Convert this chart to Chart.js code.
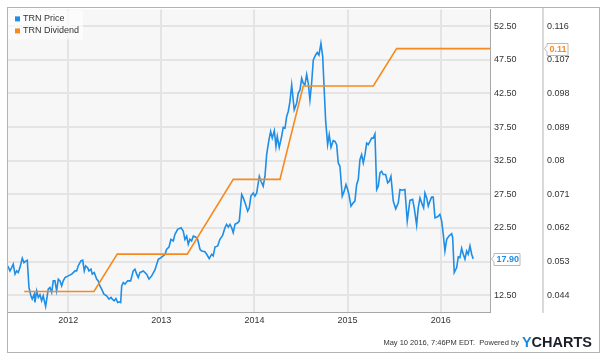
<!DOCTYPE html>
<html>
<head>
<meta charset="utf-8">
<script src="https://cdn.jsdelivr.net/npm/chart.js@4.4.1/dist/chart.umd.min.js"></script>
<style>
html,body{margin:0;padding:0;background:#fff;}
#wrap{width:600px;height:354px;position:relative;}
</style>
</head>
<body>
<div id="wrap"><canvas id="c" width="600" height="354"></canvas></div>
<script>
// ---- data ----
const priceYears = [
2011.349,2011.374,2011.392,2011.409,2011.428,2011.446,2011.463,2011.481,2011.506,2011.524,
2011.546,2011.560,2011.578,2011.599,2011.613,2011.635,2011.642,2011.661,2011.678,2011.696,
2011.714,2011.731,2011.757,2011.785,2011.803,2011.822,2011.839,2011.857,2011.875,2011.893,
2011.911,2011.929,2011.946,2011.965,2012.000,2012.037,2012.054,2012.072,2012.090,2012.107,
2012.136,2012.155,2012.172,2012.187,2012.208,2012.222,2012.244,2012.258,2012.279,2012.305,
2012.322,2012.340,2012.359,2012.383,2012.412,2012.437,2012.459,2012.473,2012.494,2012.512,
2012.531,2012.548,2012.563,2012.574,2012.591,2012.609,2012.638,2012.670,2012.698,2012.716,
2012.735,2012.752,2012.770,2012.806,2012.842,2012.867,2012.896,2012.931,2012.967,2012.996,
2013.020,2013.039,2013.057,2013.082,2013.103,2013.128,2013.146,2013.175,2013.211,2013.235,
2013.253,2013.272,2013.289,2013.307,2013.325,2013.343,2013.368,2013.390,2013.415,2013.433,
2013.468,2013.487,2013.514,2013.540,2013.557,2013.576,2013.605,2013.629,2013.658,2013.683,
2013.701,2013.719,2013.737,2013.755,2013.772,2013.791,2013.820,2013.837,2013.863,2013.880,
2013.905,2013.927,2013.944,2013.962,2013.987,2014.005,2014.024,2014.052,2014.070,2014.094,
2014.113,2014.131,2014.156,2014.174,2014.191,2014.213,2014.231,2014.245,2014.266,2014.292,
2014.309,2014.328,2014.346,2014.363,2014.381,2014.400,2014.427,2014.453,2014.470,2014.489,
2014.507,2014.524,2014.542,2014.561,2014.578,2014.596,2014.614,2014.632,2014.657,2014.675,
2014.693,2014.714,2014.733,2014.750,2014.765,2014.786,2014.803,2014.822,2014.846,2014.865,
2014.883,2014.900,2014.918,2014.943,2014.964,2014.983,2015.001,2015.018,2015.037,2015.061,
2015.079,2015.098,2015.115,2015.133,2015.151,2015.169,2015.187,2015.205,2015.222,2015.241,
2015.259,2015.276,2015.294,2015.313,2015.330,2015.348,2015.366,2015.383,2015.409,2015.431,
2015.448,2015.466,2015.491,2015.517,2015.545,2015.563,2015.588,2015.616,2015.641,2015.670,
2015.699,2015.716,2015.742,2015.759,2015.778,2015.802,2015.817,2015.831,2015.850,2015.867,
2015.885,2015.903,2015.920,2015.939,2015.968,2015.992,2016.011,2016.028,2016.046,2016.065,
2016.089,2016.118,2016.129,2016.146,2016.172,2016.189,2016.207,2016.225,2016.243,2016.261,
2016.279,2016.296,2016.315,2016.333,2016.350
];
const priceValues = [
16.86,16.11,16.60,17.11,15.63,16.11,15.86,16.60,18.00,17.34,
17.60,17.70,13.64,12.41,11.92,12.66,11.42,13.15,12.16,12.56,
11.67,12.41,10.83,13.40,13.64,12.90,14.63,14.63,13.15,14.89,
14.63,13.89,14.63,15.12,15.37,15.63,15.86,16.11,16.11,16.86,
17.60,17.70,16.11,16.86,16.60,16.11,16.37,15.63,15.86,14.89,
14.63,13.89,13.40,12.66,12.41,11.92,12.16,11.92,11.67,12.01,
11.42,11.52,11.42,13.89,14.38,14.14,14.63,14.63,16.11,16.37,
15.63,15.12,15.86,16.11,15.63,14.89,15.37,16.26,17.85,18.09,
18.34,18.59,19.33,19.67,20.81,20.56,21.55,22.29,22.53,22.04,
20.81,21.30,20.07,20.81,20.56,21.30,21.15,20.81,19.33,19.08,
18.97,18.59,17.94,18.59,18.34,19.67,19.82,20.81,21.40,22.53,
23.03,22.63,23.03,22.53,21.79,23.03,23.27,23.52,27.48,26.97,
26.00,25.00,25.49,27.23,27.71,27.23,27.71,30.19,29.45,28.71,
30.19,33.40,35.63,36.86,35.86,36.96,34.63,36.12,34.49,36.12,
37.45,37.34,39.08,39.82,41.30,43.77,40.07,41.05,42.53,43.03,
44.75,44.01,43.77,45.34,44.01,41.55,44.01,47.48,48.22,48.60,
48.22,49.94,47.97,42.78,38.34,34.89,36.37,34.49,35.48,35.37,
34.89,32.16,31.67,27.23,27.97,28.96,28.22,27.23,25.74,26.23,
26.49,28.96,29.70,32.66,33.40,32.16,33.40,35.12,34.89,35.37,
35.86,35.86,36.46,28.22,28.71,30.68,30.93,30.44,30.44,29.20,
29.45,30.19,26.49,25.34,26.23,28.22,28.11,28.22,23.52,26.59,
26.74,25.49,22.93,25.49,26.97,26.00,25.49,27.71,26.97,25.74,
26.49,27.08,27.08,24.01,24.16,24.52,23.52,21.55,19.08,20.81,
21.30,21.64,21.05,15.86,16.60,18.19,18.09,19.48,18.59,17.85,
19.08,18.59,19.82,18.59,17.90
];
const dividendYears  = [2011.527,2012.276,2012.526,2013.278,2013.772,2014.274,2014.524,2015.276,2015.527,2016.530];
const dividendValues = [0.045,0.045,0.055,0.055,0.075,0.075,0.100,0.100,0.110,0.110];
const yearTicks = [2012,2013,2014,2015,2016];
const priceTicks = [12.5,17.5,22.5,27.5,32.5,37.5,42.5,47.5,52.5];
const dividendTicks = [0.044,0.053,0.062,0.071,0.080,0.089,0.098,0.107,0.116];
const seriesNames = ['TRN Price','TRN Dividend'];
const footerText = 'May 10 2016, 7:46PM EDT.  Powered by';

// ---- styling ----
const BLUE = '#1f8ee6';
const ORANGE = '#f7891e';
const FONT = '"Liberation Sans", Arial, sans-serif';
const GRID = '#e4e4e4';

const decoPlugin = {
  id: 'deco',
  beforeDraw(chart) {
    const ctx = chart.ctx, a = chart.chartArea;
    ctx.save();
    ctx.fillStyle = '#ffffff';
    ctx.fillRect(0, 0, chart.width, chart.height);
    ctx.fillStyle = '#f7f7f7';
    ctx.fillRect(a.left, a.top, a.right - a.left, a.bottom - a.top);
    ctx.restore();
  },
  afterDraw(chart) {
    const ctx = chart.ctx, a = chart.chartArea;
    const ys = chart.scales.y, y2 = chart.scales.y2;
    ctx.save();
    // outer frame
    ctx.strokeStyle = '#b4b4b4';
    ctx.lineWidth = 1;
    ctx.strokeRect(7.5, 7.5, 592, 345);

    // legend
    ctx.fillStyle = 'rgba(255,255,255,0.65)';
    ctx.fillRect(a.left + 1, a.top + 1, 75, 29);
    ctx.font = '9px ' + FONT;
    ctx.textBaseline = 'middle';
    ctx.textAlign = 'left';
    const colors = [BLUE, ORANGE];
    seriesNames.forEach((n, i) => {
      const cy = a.top + 9.5 + i * 12;
      ctx.fillStyle = colors[i];
      ctx.fillRect(a.left + 8, cy - 2.5, 5, 5);
      ctx.fillStyle = '#333';
      ctx.fillText(n, a.left + 16, cy);
    });

    // last value labels
    function tag(xl, yv, text, color, w) {
      const h = 12, x = xl + 3, y = Math.round(yv - h / 2) + 0.5;
      ctx.beginPath();
      ctx.moveTo(xl + 0.5, yv);
      ctx.lineTo(x, yv - 3);
      ctx.lineTo(x, y);
      ctx.lineTo(x + w, y);
      ctx.lineTo(x + w, y + h);
      ctx.lineTo(x, y + h);
      ctx.lineTo(x, yv + 3);
      ctx.closePath();
      ctx.fillStyle = '#fff';
      ctx.fill();
      ctx.strokeStyle = '#b8b8b8';
      ctx.lineWidth = 1;
      ctx.stroke();
      ctx.fillStyle = color;
      ctx.font = 'bold 9px ' + FONT;
      ctx.textAlign = 'left';
      ctx.textBaseline = 'middle';
      ctx.fillText(text, x + 2.5, yv + 0.5);
    }
    const lastP = priceValues[priceValues.length - 1];
    const lastD = dividendValues[dividendValues.length - 1];
    tag(ys.left + 1, ys.getPixelForValue(lastP), lastP.toFixed(2), BLUE, 26);
    tag(y2.left + 1, y2.getPixelForValue(lastD), String(+lastD.toFixed(3)), ORANGE, 21);

    // footer
    ctx.textBaseline = 'middle';
    ctx.textAlign = 'right';
    ctx.font = 'bold 14.5px ' + FONT;
    const logoRight = 592;
    const wCharts = ctx.measureText('CHARTS').width;
    ctx.fillStyle = '#1b1f2a';
    ctx.fillText('CHARTS', logoRight, 342.5);
    ctx.fillStyle = '#1a8be0';
    ctx.fillText('Y', logoRight - wCharts, 342.5);
    const wY = ctx.measureText('Y').width;
    ctx.font = '7.5px ' + FONT;
    ctx.fillStyle = '#333';
    ctx.fillText(footerText, logoRight - wCharts - wY - 3, 343);
    ctx.restore();
  }
};

const chart = new Chart(document.getElementById('c'), {
  type: 'line',
  data: {
    datasets: [
      {
        label: seriesNames[0],
        data: priceYears.map((x, i) => ({ x: x, y: priceValues[i] })),
        borderColor: BLUE, borderWidth: 1.6, pointRadius: 0, tension: 0,
        yAxisID: 'y', order: 1
      },
      {
        label: seriesNames[1],
        data: dividendYears.map((x, i) => ({ x: x, y: dividendValues[i] })),
        borderColor: ORANGE, borderWidth: 1.6, pointRadius: 0, tension: 0,
        yAxisID: 'y2', order: 0
      }
    ]
  },
  options: {
    responsive: false,
    animation: false,
    devicePixelRatio: 1,
    layout: { padding: { left: 7, top: 7, right: 1, bottom: 22 } },
    plugins: { legend: { display: false }, tooltip: { enabled: false } },
    scales: {
      x: {
        type: 'linear', min: 2011.342, max: 2016.53,
        afterBuildTicks: a => { a.ticks = yearTicks.map(v => ({ value: v })); },
        afterFit: a => { a.height = 20; },
        ticks: { callback: v => String(v), color: '#333', font: { size: 9, family: FONT }, padding: 3, maxRotation: 0, autoSkip: false },
        grid: { color: GRID, lineWidth: 2, drawTicks: false },
        border: { color: '#a8a8a8', width: 1 }
      },
      y: {
        position: 'right', weight: 0, min: 10, max: 55,
        afterBuildTicks: a => { a.ticks = priceTicks.map(v => ({ value: v })); },
        afterFit: a => { a.width = 53; },
        ticks: { callback: v => v.toFixed(2), color: '#333', font: { size: 9, family: FONT }, padding: 4, autoSkip: false },
        grid: { color: GRID, lineWidth: 2, drawTicks: false },
        border: { color: '#a8a8a8', width: 1 }
      },
      y2: {
        position: 'right', weight: 1, min: 0.0395, max: 0.1205,
        afterBuildTicks: a => { a.ticks = dividendTicks.map(v => ({ value: v })); },
        afterFit: a => { a.width = 56; },
        ticks: { callback: v => String(+v.toFixed(3)), color: '#333', font: { size: 9, family: FONT }, padding: 4, autoSkip: false },
        grid: { display: false, drawTicks: false },
        border: { color: '#dadada', width: 2 }
      }
    }
  },
  plugins: [decoPlugin]
});
</script>
</body>
</html>
